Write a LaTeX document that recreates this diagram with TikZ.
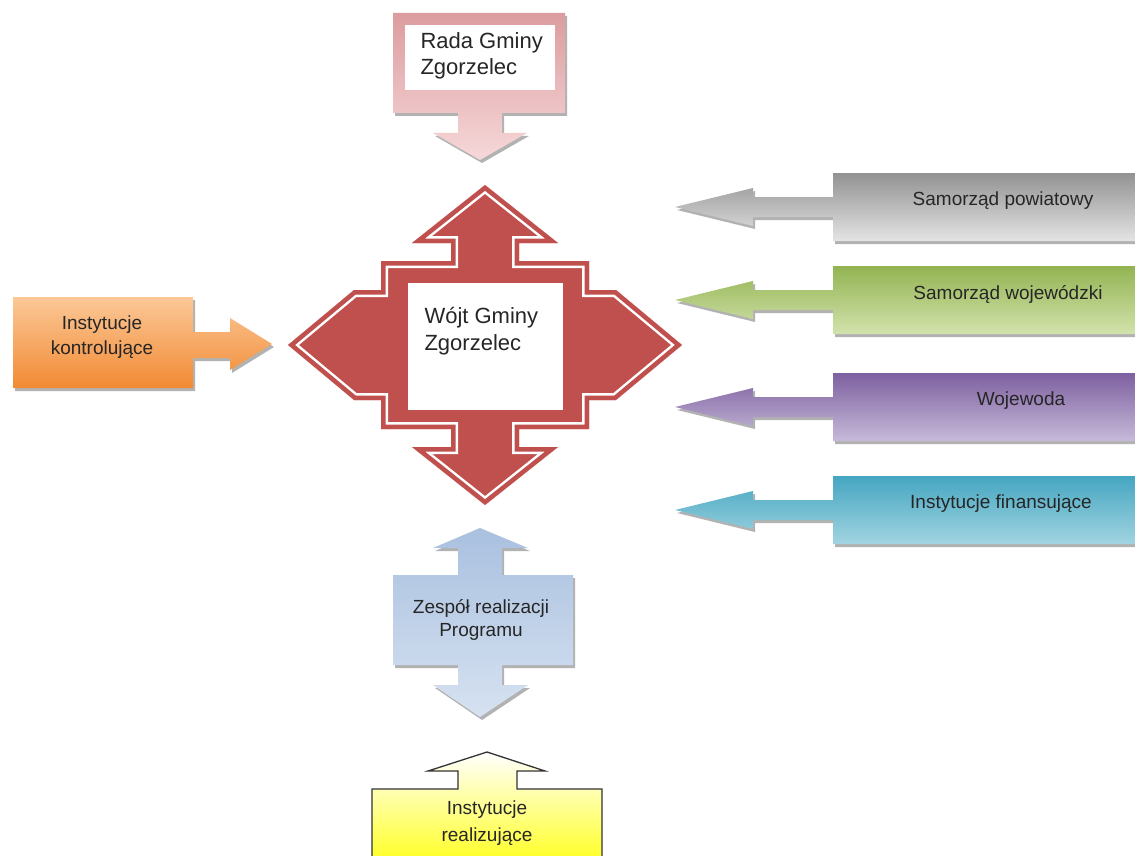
\documentclass[tikz,border=0pt]{standalone}
\usepackage{fontspec}
\setmainfont{Liberation Sans}
\usetikzlibrary{shadows}

\definecolor{wojtred}{HTML}{C0504D}
\definecolor{pinkD}{HTML}{DC9C9F}
\definecolor{pinkL}{HTML}{F6D8D9}
\definecolor{orangeD}{HTML}{F28A33}
\definecolor{orangeL}{HTML}{FBC898}
\definecolor{blueD}{HTML}{A9C0DF}
\definecolor{blueL}{HTML}{D6E2F1}
\definecolor{greyD}{HTML}{929292}
\definecolor{greyL}{HTML}{E4E4E4}
\definecolor{greenD}{HTML}{93B452}
\definecolor{greenL}{HTML}{D2E2AC}
\definecolor{purpleD}{HTML}{7D60A0}
\definecolor{purpleL}{HTML}{C7BAD9}
\definecolor{tealD}{HTML}{45A6C1}
\definecolor{tealL}{HTML}{A2D4E1}

\tikzset{
  txt/.style={text=black!85, font=\fontsize{19}{25}\selectfont, align=center},
  bigtxt/.style={text=black!85, font=\fontsize{22}{26}\selectfont, align=left, anchor=west},
  shadowed/.style={drop shadow={shadow xshift=2pt, shadow yshift=-3pt, opacity=.3, fill=black}},
}

\begin{document}
\begin{tikzpicture}[x=1pt, y=-1pt]
    \clip (0,0) rectangle (1135,856);
    \fill[white] (0,0) rectangle (1135,856);

    % Rada Gminy
    \shade[shadowed, top color=pinkD, bottom color=pinkL]
      (393,13) -- (565,13) -- (565,113) -- (502,113) -- (502,133) -- (527,133)
      -- (480,160) -- (433,133) -- (458,133) -- (458,113) -- (393,113) -- cycle;
    \fill[white] (405,25) rectangle (555,90);
    \node[bigtxt] (rada) at (417,56) {Rada Gminy\\Zgorzelec};

    % Wojt Gminy
    \def\wojtcross{(485,185) -- (558,243) -- (519,243) -- (519,261) -- (589,261)
      -- (589,290) -- (616,290) -- (682,345) -- (616,400) -- (589,400) -- (589,429)
      -- (519,429) -- (519,447) -- (558,447) -- (485,505) -- (412,447) -- (451,447)
      -- (451,429) -- (381,429) -- (381,400) -- (354,400) -- (288,345) -- (354,290)
      -- (381,290) -- (381,261) -- (451,261) -- (451,243) -- (412,243) -- cycle}
    \fill[wojtred] \wojtcross;
    \begin{scope}
      \clip \wojtcross;
      \draw[white, line width=14, line join=miter, miter limit=20] \wojtcross;
      \draw[wojtred, line width=9, line join=miter, miter limit=20] \wojtcross;
    \end{scope}
    \fill[white] (408,283) rectangle (563,410);
    \node[bigtxt, font=\fontsize{22}{27}\selectfont] (wojt) at (421,331) {Wójt Gminy\\Zgorzelec};

    % Instytucje kontrolujace
    \shade[shadowed, top color=orangeL, bottom color=orangeD]
      (13,297) -- (193,297) -- (193,332) -- (230,332) -- (230,318) -- (272,344)
      -- (230,370) -- (230,358) -- (193,358) -- (193,388) -- (13,388) -- cycle;
    \node[txt] (kontrola) at (102,337) {Instytucje\\kontrolujące};

    % right side
    \foreach \yc/\cdark/\clight/\name/\txt/\tx in {
        207/greyD/greyL/powiat/{Samorząd powiatowy}/1003,
        300/greenD/greenL/wojewodztwo/{Samorząd wojewódzki}/1008,
        407/purpleD/purpleL/wojewoda/{Wojewoda}/1021,
        510/tealD/tealL/finanse/{Instytucje finansujące}/1001} {
      \shade[shadowed, top color=\cdark, bottom color=\clight]
        (1140,\yc-34) -- (833,\yc-34) -- (833,\yc-10) -- (753,\yc-10) -- (753,\yc-19)
        -- (675,\yc) -- (753,\yc+19) -- (753,\yc+10) -- (833,\yc+10) -- (833,\yc+34)
        -- (1140,\yc+34) -- cycle;
      \node[txt] (\name) at (\tx,\yc-6) {\txt};
    }

    % Zespol realizacji
    \shade[shadowed, top color=blueD, bottom color=blueL]
      (480,528) -- (528,548) -- (502,548) -- (502,575) -- (573,575) -- (573,665)
      -- (502,665) -- (502,685) -- (528,685) -- (480,717) -- (433,685) -- (458,685)
      -- (458,665) -- (393,665) -- (393,575) -- (458,575) -- (458,548) -- (433,548) -- cycle;
    \node[txt, font=\fontsize{19}{23}\selectfont] (zespol) at (481,620) {Zespół realizacji\\Programu};

    % Instytucje realizujace
    \shade[draw=black!80, line width=1.3, top color=white, bottom color=yellow]
      (487,752) -- (545,771) -- (517,771) -- (517,789) -- (602,789) -- (602,880)
      -- (372,880) -- (372,789) -- (458,789) -- (458,771) -- (428,771) -- cycle;
    \node[txt, font=\fontsize{19}{27}\selectfont] (realizacja) at (487,823) {Instytucje\\realizujące};
\end{tikzpicture}
\end{document}
